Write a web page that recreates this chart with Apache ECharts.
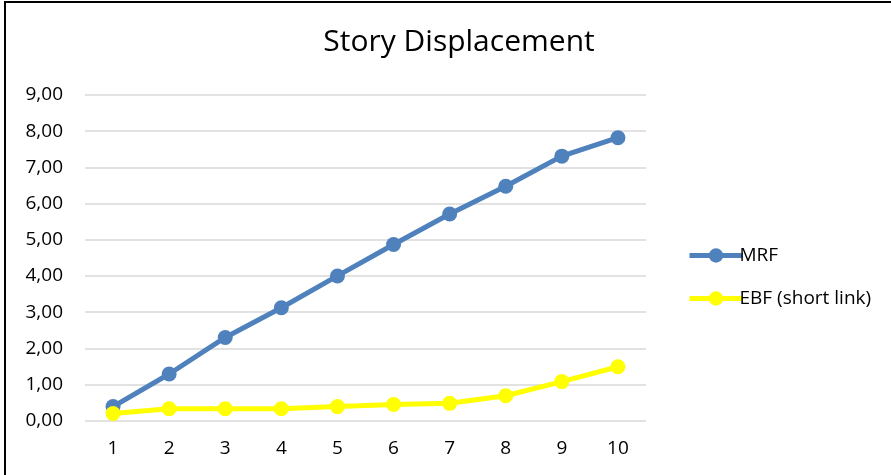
<!DOCTYPE html>
<html><head><meta charset="utf-8">
<script src="https://cdn.jsdelivr.net/npm/echarts@6/dist/echarts.min.js"></script>
<style>html,body{margin:0;padding:0;background:#fff}#c{width:891px;height:475px}</style>
</head><body><div id="c"></div>
<script>
const categories = ['1','2','3','4','5','6','7','8','9','10'];
const mrf = [0.39, 1.29, 2.30, 3.12, 4.00, 4.87, 5.71, 6.48, 7.31, 7.82];
const ebf = [0.20, 0.33, 0.33, 0.33, 0.39, 0.45, 0.48, 0.69, 1.08, 1.49];
const seriesNames = ['MRF', 'EBF (short link)'];
const FONT = '"Open Sans", "Noto Sans", sans-serif';
const chart = echarts.init(document.getElementById('c'), null, {renderer:'canvas'});
chart.setOption({
  animation:false,
  backgroundColor:'#fff',
  title:{text:'Story Displacement', left:454, textAlign:'center', top:22,
    textStyle:{fontFamily:FONT, fontWeight:'normal', fontSize:30, color:'#000'}},
  graphic:[{type:'rect', shape:{x:5,y:2,width:900,height:520}, style:{fill:'none', stroke:'#000', lineWidth:2}, silent:true}],
  grid:{left:85, right:245, top:95, bottom:54.3},
  legend:{orient:'vertical', left:682, top:241, itemWidth:53, itemHeight:18, itemGap:24,
    lineStyle:{width:5},
    textStyle:{fontFamily:FONT, fontSize:19, color:'#000', padding:[0,0,0,-8]},
    data:seriesNames},
  xAxis:{type:'category', data:categories, boundaryGap:true,
    axisLine:{show:false}, axisTick:{show:false},
    axisLabel:{fontFamily:FONT, fontSize:19, color:'#000', margin:18, interval:0}},
  yAxis:{type:'value', min:0, max:9, interval:1,
    axisLine:{show:false}, axisTick:{show:false},
    splitLine:{lineStyle:{color:'#d9d9d9', width:1.5}},
    axisLabel:{fontFamily:FONT, fontSize:19, color:'#000', margin:22,
      formatter:v=>v.toFixed(2).replace('.',',')}},
  series:[
    {name:seriesNames[0], type:'line', data:mrf, symbol:'circle', symbolSize:15,
      itemStyle:{color:'#4f81bd'}, lineStyle:{color:'#4f81bd', width:5}},
    {name:seriesNames[1], type:'line', data:ebf, symbol:'circle', symbolSize:15,
      itemStyle:{color:'#ffff00'}, lineStyle:{color:'#ffff00', width:5}}
  ]
});
</script></body></html>
